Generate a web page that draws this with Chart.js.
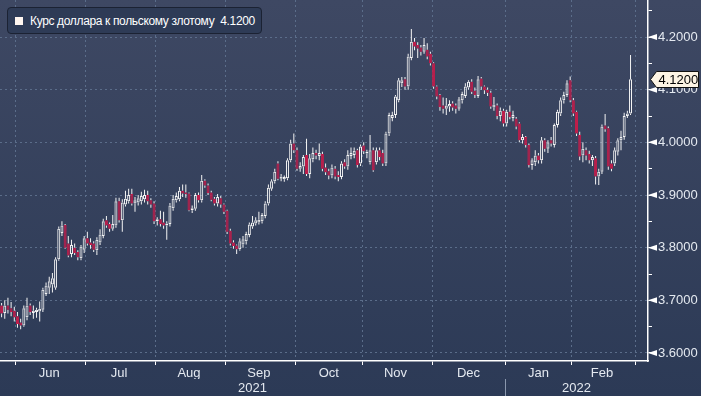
<!DOCTYPE html>
<html>
<head>
<meta charset="utf-8">
<script src="https://cdn.jsdelivr.net/npm/chart.js@4.4.1/dist/chart.umd.min.js"></script>
<style>
  html, body { margin: 0; padding: 0; background: #2c3a56; }
  #wrap {
    position: relative; width: 701px; height: 396px;
    background: linear-gradient(to bottom, #3e4863 0%, #2c3a56 100%);
  }
  #legend {
    position: absolute; left: 7px; top: 7px; height: 25px; padding: 0 6px 0 7px;
    border: 1px solid #1b2233; border-radius: 4px; background: #2e3b56;
    color: #ffffff; font: 12px "Liberation Sans", Arial, sans-serif; letter-spacing: -0.35px;
    display: flex; align-items: center; white-space: pre;
  }
  #legend span.box { display: inline-block; width: 8px; height: 8px; background: #fff6f0; margin-right: 7px; }
</style>
</head>
<body>
<div id="wrap">
  <canvas id="chart" width="701" height="396"></canvas>
  <div id="legend"><span class="box"></span><span id="legend-text"></span></div>
</div>
<script>
var seriesName = "Курс доллара к польскому злотому"
var startDate = "2021-05-25"
var slotCount = 204
var monthNames = ["Jan", "Feb", "Mar", "Apr", "May", "Jun", "Jul", "Aug", "Sep", "Oct", "Nov", "Dec"]
var yTickValues = [3.6, 3.7, 3.8, 3.9, 4.0, 4.1, 4.2]

var openValues = [
  3.690, 3.676, 3.690, 3.685, 3.680, 3.670, 3.658, 3.652, 3.668, 3.690,
  3.676, 3.678, 3.679, 3.682, 3.712, 3.724, 3.730, 3.724, 3.778, 3.828,
  3.843, 3.808, 3.788, 3.800, 3.792, 3.780, 3.796, 3.818, 3.810, 3.808,
  3.795, 3.810, 3.822, 3.852, 3.845, 3.836, 3.842, 3.888, 3.852, 3.882,
  3.888, 3.902, 3.884, 3.886, 3.888, 3.892, 3.900, 3.890, 3.884, 3.850,
  3.854, 3.848, 3.842, 3.845, 3.875, 3.890, 3.892, 3.908, 3.905, 3.903,
  3.871, 3.874, 3.900, 3.890, 3.927, 3.918, 3.905, 3.893, 3.884, 3.894,
  3.882, 3.870, 3.832, 3.810, 3.804, 3.797, 3.806, 3.812, 3.824, 3.840,
  3.846, 3.848, 3.850, 3.860, 3.884, 3.912, 3.926, 3.960, 3.931, 3.930,
  3.932, 3.966, 3.998, 3.985, 3.950, 3.954, 3.976, 3.940, 3.968, 3.980,
  3.974, 3.978, 3.952, 3.945, 3.937, 3.950, 3.938, 3.934, 3.962, 3.954,
  3.974, 3.976, 3.985, 3.960, 3.994, 3.979, 3.962, 3.985, 3.962, 3.985,
  3.980, 3.960, 4.017, 4.046, 4.052, 4.080, 4.112, 4.120, 4.106, 4.160,
  4.191, 4.185, 4.180, 4.172, 4.176, 4.168, 4.150, 4.106, 4.090, 4.070,
  4.064, 4.068, 4.074, 4.070, 4.064, 4.080, 4.088, 4.104, 4.115, 4.098,
  4.088, 4.121, 4.106, 4.100, 4.094, 4.066, 4.070, 4.050, 4.060, 4.036,
  4.058, 4.046, 4.045, 4.036, 4.004, 4.010, 3.995, 3.957, 3.962, 3.975,
  3.966, 4.004, 3.988, 4.004, 3.995, 4.033, 4.055, 4.080, 4.090, 4.118,
  4.080, 4.058, 4.014, 3.975, 3.985, 3.978, 3.966, 3.970, 3.935, 3.944,
  4.032, 4.027, 3.960, 3.960, 3.982, 4.004, 4.010, 4.050, 4.055
]
var highValues = [
  3.695, 3.700, 3.705, 3.697, 3.688, 3.678, 3.665, 3.690, 3.705, 3.694,
  3.690, 3.686, 3.698, 3.724, 3.734, 3.745, 3.752, 3.782, 3.840, 3.850,
  3.845, 3.822, 3.815, 3.808, 3.795, 3.805, 3.822, 3.830, 3.818, 3.812,
  3.820, 3.835, 3.855, 3.860, 3.848, 3.862, 3.895, 3.895, 3.892, 3.908,
  3.912, 3.912, 3.896, 3.900, 3.906, 3.910, 3.908, 3.894, 3.888, 3.858,
  3.870, 3.868, 3.850, 3.885, 3.900, 3.905, 3.915, 3.920, 3.920, 3.905,
  3.880, 3.904, 3.905, 3.938, 3.930, 3.922, 3.908, 3.896, 3.902, 3.898,
  3.884, 3.872, 3.836, 3.814, 3.806, 3.818, 3.822, 3.830, 3.848, 3.860,
  3.858, 3.868, 3.866, 3.888, 3.920, 3.930, 3.950, 3.964, 3.940, 3.937,
  3.970, 4.005, 4.017, 3.990, 3.962, 3.976, 4.007, 3.978, 3.990, 3.986,
  3.998, 3.982, 3.960, 3.950, 3.958, 3.955, 3.945, 3.964, 3.968, 3.985,
  3.990, 3.990, 3.988, 3.996, 4.000, 3.986, 4.014, 3.990, 3.990, 3.990,
  3.986, 4.020, 4.056, 4.058, 4.090, 4.122, 4.124, 4.124, 4.168, 4.215,
  4.198, 4.190, 4.185, 4.198, 4.188, 4.172, 4.152, 4.108, 4.092, 4.085,
  4.084, 4.080, 4.078, 4.074, 4.086, 4.096, 4.112, 4.118, 4.120, 4.104,
  4.126, 4.124, 4.108, 4.104, 4.098, 4.086, 4.074, 4.066, 4.064, 4.062,
  4.070, 4.060, 4.048, 4.038, 4.016, 4.012, 3.998, 3.970, 3.985, 3.980,
  4.010, 4.008, 4.004, 4.010, 4.036, 4.062, 4.085, 4.096, 4.118, 4.125,
  4.084, 4.060, 4.020, 4.000, 3.990, 3.984, 3.976, 3.974, 3.950, 4.034,
  4.054, 4.030, 3.966, 3.990, 4.008, 4.022, 4.056, 4.060, 4.166
]
var lowValues = [
  3.668, 3.665, 3.675, 3.670, 3.660, 3.648, 3.645, 3.650, 3.662, 3.672,
  3.665, 3.667, 3.660, 3.678, 3.708, 3.712, 3.715, 3.720, 3.775, 3.822,
  3.798, 3.782, 3.782, 3.786, 3.776, 3.776, 3.790, 3.804, 3.798, 3.792,
  3.786, 3.805, 3.818, 3.838, 3.830, 3.832, 3.838, 3.848, 3.830, 3.878,
  3.884, 3.880, 3.868, 3.880, 3.882, 3.886, 3.882, 3.876, 3.845, 3.842,
  3.840, 3.836, 3.815, 3.840, 3.870, 3.886, 3.888, 3.896, 3.895, 3.869,
  3.866, 3.870, 3.886, 3.886, 3.914, 3.900, 3.888, 3.880, 3.878, 3.876,
  3.864, 3.826, 3.804, 3.798, 3.788, 3.794, 3.800, 3.806, 3.820, 3.836,
  3.842, 3.844, 3.846, 3.856, 3.880, 3.908, 3.922, 3.928, 3.926, 3.925,
  3.928, 3.962, 3.980, 3.946, 3.944, 3.940, 3.936, 3.932, 3.962, 3.968,
  3.966, 3.945, 3.938, 3.930, 3.932, 3.930, 3.926, 3.930, 3.950, 3.948,
  3.968, 3.970, 3.952, 3.955, 3.978, 3.970, 3.958, 3.944, 3.958, 3.966,
  3.955, 3.955, 4.012, 4.040, 4.046, 4.076, 4.105, 4.100, 4.100, 4.156,
  4.175, 4.160, 4.165, 4.168, 4.158, 4.146, 4.102, 4.082, 4.060, 4.055,
  4.052, 4.058, 4.060, 4.055, 4.060, 4.074, 4.084, 4.100, 4.092, 4.084,
  4.084, 4.100, 4.092, 4.088, 4.064, 4.060, 4.044, 4.040, 4.030, 4.030,
  4.044, 4.040, 4.025, 4.000, 3.998, 3.990, 3.952, 3.948, 3.955, 3.960,
  3.960, 3.982, 3.980, 3.992, 3.990, 4.028, 4.050, 4.074, 4.086, 4.076,
  4.050, 4.012, 3.966, 3.962, 3.966, 3.960, 3.955, 3.920, 3.919, 3.940,
  4.020, 3.948, 3.945, 3.955, 3.975, 3.985, 4.005, 4.046, 4.052
]
var closeValues = [
  3.675, 3.690, 3.682, 3.678, 3.668, 3.655, 3.652, 3.685, 3.690, 3.678,
  3.680, 3.682, 3.684, 3.720, 3.728, 3.736, 3.742, 3.778, 3.836, 3.842,
  3.800, 3.785, 3.805, 3.790, 3.782, 3.802, 3.818, 3.808, 3.805, 3.796,
  3.815, 3.825, 3.850, 3.842, 3.836, 3.845, 3.888, 3.852, 3.886, 3.893,
  3.900, 3.884, 3.890, 3.894, 3.898, 3.900, 3.888, 3.882, 3.850, 3.854,
  3.845, 3.842, 3.846, 3.880, 3.893, 3.898, 3.908, 3.903, 3.902, 3.871,
  3.875, 3.900, 3.890, 3.927, 3.918, 3.904, 3.891, 3.884, 3.896, 3.882,
  3.868, 3.830, 3.808, 3.803, 3.797, 3.812, 3.816, 3.826, 3.844, 3.848,
  3.852, 3.853, 3.862, 3.884, 3.914, 3.926, 3.944, 3.931, 3.935, 3.934,
  3.966, 3.998, 3.985, 3.950, 3.955, 3.972, 3.940, 3.970, 3.980, 3.975,
  3.980, 3.950, 3.943, 3.937, 3.952, 3.935, 3.934, 3.960, 3.954, 3.976,
  3.980, 3.984, 3.957, 3.992, 3.983, 3.982, 3.985, 3.947, 3.985, 3.972,
  3.960, 4.017, 4.052, 4.052, 4.087, 4.118, 4.118, 4.106, 4.163, 4.191,
  4.182, 4.178, 4.172, 4.185, 4.163, 4.150, 4.106, 4.087, 4.067, 4.064,
  4.070, 4.073, 4.066, 4.064, 4.082, 4.092, 4.106, 4.115, 4.096, 4.090,
  4.120, 4.106, 4.099, 4.094, 4.068, 4.072, 4.050, 4.060, 4.036, 4.058,
  4.048, 4.052, 4.030, 4.004, 4.010, 3.995, 3.957, 3.966, 3.975, 3.966,
  4.004, 3.988, 4.000, 3.998, 4.033, 4.058, 4.080, 4.090, 4.112, 4.080,
  4.055, 4.017, 3.973, 3.988, 3.975, 3.966, 3.972, 3.935, 3.944, 4.030,
  4.025, 3.954, 3.950, 3.985, 4.004, 4.010, 4.050, 4.055, 4.120
]

var fontFamily = '"Liberation Sans", Arial, sans-serif'
var gridColor = '#5b6d8a'
var upColor = '#f4f4f4'
var downColor = '#c21d4b'

// business-day axis categories
var dates = []
var d = new Date(startDate + "T00:00:00Z")
while (dates.length < slotCount) {
    var wd = d.getUTCDay()
    if (wd != 0 && wd != 6) dates.push(new Date(d.getTime()))
    d.setUTCDate(d.getUTCDate() + 1)
}
var labels = dates.map(x => x.toISOString().slice(0, 10))

var monthStarts = []
var monthLabelAt = {}
var groupStart = 0
for (let i = 1; i <= dates.length; i++) {
    if (i == dates.length || dates[i].getUTCMonth() != dates[i-1].getUTCMonth()) {
        if (i < dates.length) monthStarts.push(i)
        if (groupStart > 0 && i < dates.length) {
            monthLabelAt[Math.floor((groupStart + i - 1) / 2)] = monthNames[dates[groupStart].getUTCMonth()]
        }
        groupStart = i
    }
}
var yearStarts = []
var yearLabelAt = {}
groupStart = 0
for (let i = 1; i <= dates.length; i++) {
    if (i == dates.length || dates[i].getUTCFullYear() != dates[i-1].getUTCFullYear()) {
        if (i < dates.length) yearStarts.push(i)
        yearLabelAt[Math.round((groupStart + i - 1) / 2)] = String(dates[groupStart].getUTCFullYear())
        groupStart = i
    }
}

var bodies = [], upperWicks = [], lowerWicks = [], bodyFill = [], bodyBorder = []
for (let i = 0; i < closeValues.length; i++) {
    var o = openValues[i], c = closeValues[i]
    bodies.push([o, c])
    upperWicks.push([Math.max(o, c), highValues[i]])
    lowerWicks.push([lowValues[i], Math.min(o, c)])
    bodyFill.push(c >= o ? 'rgba(0,0,0,0)' : downColor)
    bodyBorder.push(c >= o ? upColor : downColor)
}

var lastClose = closeValues[closeValues.length - 1]
document.getElementById("legend-text").textContent = seriesName + "  " + lastClose.toFixed(4)

function isMajor(v) {
    return Math.abs(v * 10 - Math.round(v * 10)) < 1e-6
}

function noPadding(s) {
    s.paddingTop = 0
    s.paddingBottom = 0
    s.paddingLeft = 0
    s.paddingRight = 0
}

var axisMarks = {
    id: 'axisMarks',
    afterDraw: function(chart) {
        var ys = chart.scales.y
        var c = chart.ctx
        c.save()
        c.fillStyle = '#ffffff'
        yTickValues.forEach(function(v) {
            var py = ys.getPixelForValue(v)
            c.beginPath()
            c.moveTo(ys.left, py)
            c.lineTo(ys.left + 9, py - 3)
            c.lineTo(ys.left + 9, py + 3)
            c.closePath()
            c.fill()
        })
        // last price tag
        var py = Math.round(ys.getPixelForValue(lastClose)) + 0.5
        var x0 = ys.left + 2.5
        c.beginPath()
        c.moveTo(x0, py)
        c.lineTo(x0 + 6, py - 8)
        c.lineTo(x0 + 48, py - 8)
        c.lineTo(x0 + 48, py + 8)
        c.lineTo(x0 + 6, py + 8)
        c.closePath()
        c.fillStyle = '#fdf4e4'
        c.fill()
        c.strokeStyle = '#111111'
        c.lineWidth = 1
        c.stroke()
        c.fillStyle = '#000000'
        c.font = '13px ' + fontFamily
        c.textBaseline = 'middle'
        c.fillText(lastClose.toFixed(4), x0 + 8, py + 1)
        c.restore()
    }
}

var ctx = document.getElementById("chart")
var myChart = new Chart(ctx, {
    type: 'bar',
    data: {
        labels: labels,
        datasets: [
            {
                label: 'upper',
                data: upperWicks,
                backgroundColor: upColor,
                barThickness: 1,
                grouped: false,
                inflateAmount: 0,
                order: 2
            },
            {
                label: 'lower',
                data: lowerWicks,
                backgroundColor: upColor,
                barThickness: 1,
                grouped: false,
                inflateAmount: 0,
                order: 2
            },
            {
                label: 'body',
                data: bodies,
                backgroundColor: bodyFill,
                borderColor: bodyBorder,
                borderWidth: 1,
                borderSkipped: false,
                barThickness: 3,
                minBarLength: 1,
                grouped: false,
                inflateAmount: 0,
                order: 1
            }
        ]
    },
    options: {
        responsive: false,
        animation: false,
        layout: { padding: 0 },
        plugins: {
            legend: { display: false },
            tooltip: { enabled: false }
        },
        scales: {
            x: {
                type: 'category',
                position: 'bottom',
                offset: true,
                grid: {
                    offset: true,
                    color: c => monthStarts.includes(c.index) ? gridColor : 'rgba(0,0,0,0)',
                    tickColor: c => monthStarts.includes(c.index) ? '#ffffff' : 'rgba(0,0,0,0)',
                    tickLength: 4
                },
                border: { color: '#ffffff', width: 1.5, dash: [2, 3] },
                ticks: {
                    autoSkip: false,
                    maxRotation: 0,
                    padding: 1,
                    color: '#e4e9f0',
                    font: { family: fontFamily, size: 13 },
                    callback: (v, i) => monthLabelAt[i] || ''
                },
                afterFit: s => { s.height = 18; noPadding(s) }
            },
            yr: {
                type: 'category',
                position: 'bottom',
                weight: 1,
                offset: true,
                grid: {
                    offset: true,
                    drawOnChartArea: false,
                    color: 'rgba(0,0,0,0)',
                    tickColor: c => yearStarts.includes(c.index) ? '#8a97ad' : 'rgba(0,0,0,0)',
                    tickLength: 17
                },
                border: { display: false },
                ticks: {
                    autoSkip: false,
                    maxRotation: 0,
                    padding: -15,
                    color: '#e4e9f0',
                    font: { family: fontFamily, size: 13 },
                    callback: (v, i) => yearLabelAt[i] || ''
                },
                afterFit: s => { s.height = 17; noPadding(s) }
            },
            y: {
                position: 'right',
                min: 3.5848,
                max: 4.2703,
                afterBuildTicks: function(scale) {
                    var t = []
                    yTickValues.forEach(v => {
                        t.push({ value: v })
                        t.push({ value: Math.round((v + 0.05) * 100) / 100 })
                    })
                    scale.ticks = t
                },
                grid: {
                    color: c => (c.tick && isMajor(c.tick.value)) ? gridColor : 'rgba(0,0,0,0)',
                    tickColor: '#ffffff',
                    tickLength: 4
                },
                border: { color: '#ffffff', width: 1.5, dash: [2, 3] },
                ticks: {
                    padding: 6,
                    color: '#e4e9f0',
                    font: { family: fontFamily, size: 13 },
                    callback: v => isMajor(v) ? v.toFixed(4) : ''
                },
                afterFit: s => { s.width = 53; noPadding(s) }
            }
        }
    },
    plugins: [axisMarks]
})
</script>
</body>
</html>
